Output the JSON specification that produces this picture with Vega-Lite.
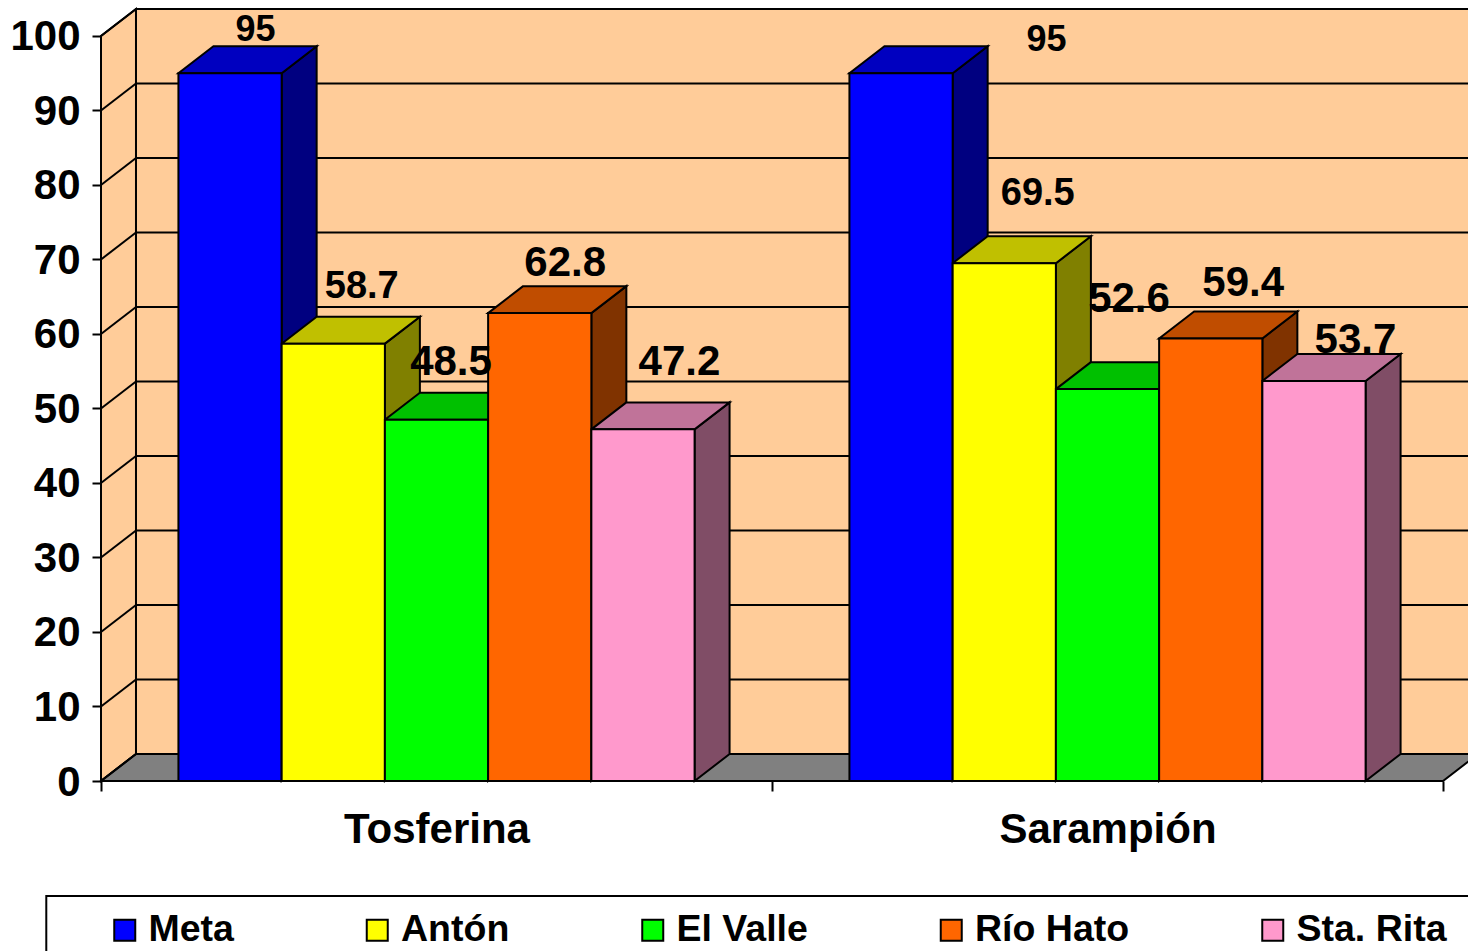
{"$schema":"https://vega.github.io/schema/vega-lite/v6.json","width":1367,"height":772,"autosize":"none","padding":{"left":101,"top":9,"right":0,"bottom":170},"background":"white","config":{"view":{"stroke":null},"font":"Liberation Sans"},
"datasets":{
"barras":[
{"grupo":"Tosferina","serie":"Meta","valor":95},
{"grupo":"Tosferina","serie":"Antón","valor":58.7},
{"grupo":"Tosferina","serie":"El Valle","valor":48.5},
{"grupo":"Tosferina","serie":"Río Hato","valor":62.8},
{"grupo":"Tosferina","serie":"Sta. Rita","valor":47.2},
{"grupo":"Sarampión","serie":"Meta","valor":95},
{"grupo":"Sarampión","serie":"Antón","valor":69.5},
{"grupo":"Sarampión","serie":"El Valle","valor":52.6},
{"grupo":"Sarampión","serie":"Río Hato","valor":59.4},
{"grupo":"Sarampión","serie":"Sta. Rita","valor":53.7}],
"rejilla":[{"nivel":0},{"nivel":10},{"nivel":20},{"nivel":30},{"nivel":40},{"nivel":50},{"nivel":60},{"nivel":70},{"nivel":80},{"nivel":90},{"nivel":100}],
"pared":[{"t":0},{"t":1}]},
"params":[{"name":"dx","value":0.339},{"name":"dy","value":3.62}],
"layer":[
{"data":{"name":"pared"},"transform":[{"calculate":"datum.t*dx","as":"xa"},{"calculate":"datum.t*dy","as":"ya"},{"calculate":"100+datum.t*dy","as":"yb"}],
 "mark":{"type":"area","orient":"vertical","fill":"#FFCC99","stroke":"black","strokeWidth":2},
 "encoding":{"x":{"field":"xa","type":"quantitative","scale":{"domain":[0,13.242],"nice":false,"zero":false},
   "axis":{"title":null,"values":[0,3.25,6.5,9.75,13],"grid":false,"domain":false,"tickColor":"black","tickWidth":2,"tickSize":10,"tickOpacity":{"condition":{"test":"datum.value==3.25||datum.value==9.75","value":0},"value":1},"labelExpr":"datum.value==3.25?'Tosferina':datum.value==9.75?'Sarampión':''","labelFont":"Liberation Sans","labelFontWeight":"bold","labelFontSize":42,"labelColor":"black","labelPadding":18,"labelOverlap":false,"labelFlush":false,"labelLimit":500}},
  "y":{"field":"ya","type":"quantitative","stack":null,"scale":{"domain":[0,103.62],"nice":false,"zero":false},
   "axis":{"title":null,"values":[0,10,20,30,40,50,60,70,80,90,100],"grid":false,"domain":false,"tickColor":"black","tickWidth":2,"tickSize":9,"labelFont":"Liberation Sans","labelFontWeight":"bold","labelFontSize":42,"labelColor":"black","labelPadding":12,"labelOffset":1}},
  "y2":{"field":"yb"}}},
{"data":{"name":"pared"},"transform":[{"calculate":"datum.t*dx","as":"xa"},{"calculate":"13+datum.t*dx","as":"xb"},{"calculate":"datum.t*dy","as":"ya"}],
 "mark":{"type":"area","orient":"horizontal","fill":"#808080","stroke":"black","strokeWidth":2},
 "encoding":{"x":{"field":"xa","type":"quantitative"},"x2":{"field":"xb"},"y":{"field":"ya","type":"quantitative","stack":null}}},
{"data":{"name":"pared"},"transform":[{"aggregate":[{"op":"max","field":"t","as":"m"}]},{"calculate":"dx","as":"xa"},{"calculate":"14","as":"xb"},{"calculate":"dy","as":"ya"},{"calculate":"100+dy","as":"yb"}],
 "mark":{"type":"rect","fill":"#FFCC99","stroke":"black","strokeWidth":2},
 "encoding":{"x":{"field":"xa","type":"quantitative"},"x2":{"field":"xb"},"y":{"field":"ya","type":"quantitative"},"y2":{"field":"yb"}}},
{"data":{"name":"pared"},"transform":[{"aggregate":[{"op":"max","field":"t","as":"m"}]},{"calculate":"-0.53","as":"xa"},{"calculate":"14","as":"xb"},{"calculate":"-15.44","as":"ya"},{"calculate":"-40","as":"yb"}],
 "mark":{"type":"rect","fill":"white","stroke":"black","strokeWidth":2},
 "encoding":{"x":{"field":"xa","type":"quantitative"},"x2":{"field":"xb"},"y":{"field":"ya","type":"quantitative"},"y2":{"field":"yb"}}},
{"data":{"name":"rejilla"},"transform":[{"calculate":"[0,1]","as":"t"},{"flatten":["t"]},{"calculate":"datum.t*dx","as":"xa"},{"calculate":"datum.nivel+datum.t*dy","as":"ya"}],
 "mark":{"type":"line","stroke":"black","strokeWidth":2},
 "encoding":{"x":{"field":"xa","type":"quantitative"},"y":{"field":"ya","type":"quantitative"},"detail":{"field":"nivel"}}},
{"data":{"name":"rejilla"},"transform":[{"calculate":"dx","as":"xa"},{"calculate":"14","as":"xb"},{"calculate":"datum.nivel+dy","as":"ya"}],
 "mark":{"type":"rule","stroke":"black","strokeWidth":2},
 "encoding":{"x":{"field":"xa","type":"quantitative"},"x2":{"field":"xb"},"y":{"field":"ya","type":"quantitative"}}},
{"data":{"name":"barras"},"transform":[{"calculate":"[0,1]","as":"t"},{"flatten":["t"]},{"calculate":"indexof(['Tosferina','Sarampión'],datum.grupo)*6.5+0.75+indexof(['Meta','Antón','El Valle','Río Hato','Sta. Rita'],datum.serie)+1+datum.t*dx","as":"xa"},{"calculate":"datum.t*dy","as":"ya"},{"calculate":"datum.valor+datum.t*dy","as":"yb"}],
 "mark":{"type":"area","orient":"vertical","stroke":"black","strokeWidth":2},
 "encoding":{"x":{"field":"xa","type":"quantitative"},"y":{"field":"ya","type":"quantitative","stack":null},"y2":{"field":"yb"},"detail":{"field":"grupo"},
  "color":{"field":"serie","type":"nominal","legend":null,"scale":{"domain":["Meta","Antón","El Valle","Río Hato","Sta. Rita"],"range":["#000080","#808000","#008000","#803300","#804D66"]}}}},
{"data":{"name":"barras"},"transform":[{"calculate":"[0,1]","as":"t"},{"flatten":["t"]},{"calculate":"indexof(['Tosferina','Sarampión'],datum.grupo)*6.5+0.75+indexof(['Meta','Antón','El Valle','Río Hato','Sta. Rita'],datum.serie)+datum.t*dx","as":"xa"},{"calculate":"datum.xa+1","as":"xb"},{"calculate":"datum.valor+datum.t*dy","as":"ya"}],
 "mark":{"type":"area","orient":"horizontal","stroke":"black","strokeWidth":2},
 "encoding":{"x":{"field":"xa","type":"quantitative"},"x2":{"field":"xb"},"y":{"field":"ya","type":"quantitative","stack":null},"detail":{"field":"grupo"},
  "color":{"field":"serie","type":"nominal","legend":null,"scale":{"domain":["Meta","Antón","El Valle","Río Hato","Sta. Rita"],"range":["#0000C0","#C0C000","#00C000","#C04D00","#C07399"]}}}},
{"data":{"name":"barras"},"transform":[{"calculate":"indexof(['Tosferina','Sarampión'],datum.grupo)*6.5+0.75+indexof(['Meta','Antón','El Valle','Río Hato','Sta. Rita'],datum.serie)","as":"xa"},{"calculate":"datum.xa+1","as":"xb"}],
 "mark":{"type":"rect","stroke":"black","strokeWidth":2},
 "encoding":{"x":{"field":"xa","type":"quantitative"},"x2":{"field":"xb"},"y":{"field":"valor","type":"quantitative"},"y2":{"datum":0},
  "color":{"field":"serie","type":"nominal","scale":{"domain":["Meta","Antón","El Valle","Río Hato","Sta. Rita"],"range":["#0000FF","#FFFF00","#00FF00","#FF6600","#FF99CC"]},
   "legend":{"title":null,"orient":"none","legendX":5,"legendY":902,"direction":"horizontal","columns":5,"columnPadding":124.5,"padding":0,"symbolType":"square","symbolSize":441,"symbolStrokeColor":"black","symbolStrokeWidth":2,"symbolOpacity":1,"labelFont":"Liberation Sans","labelFontWeight":"bold","labelFontSize":37.5,"labelColor":"black","labelOffset":5}}}},
{"data":{"name":"barras"},"transform":[{"filter":"datum.grupo=='Tosferina'&&datum.serie=='Meta'"},{"calculate":"0.75+0.5+dx/2","as":"xa"},{"calculate":"datum.valor+dy","as":"ya"}],"mark":{"type":"text","font":"Liberation Sans","fontWeight":"bold","fontSize":36,"fill":"black","baseline":"middle","dx":8,"dy":-16},"encoding":{"x":{"field":"xa","type":"quantitative"},"y":{"field":"ya","type":"quantitative"},"text":{"field":"valor","type":"quantitative"}}},
{"data":{"name":"barras"},"transform":[{"filter":"datum.grupo=='Tosferina'&&datum.serie=='Antón'"},{"calculate":"1.75+0.5+dx/2","as":"xa"},{"calculate":"datum.valor+dy","as":"ya"}],"mark":{"type":"text","font":"Liberation Sans","fontWeight":"bold","fontSize":38,"fill":"black","baseline":"middle","dx":11,"dy":-30},"encoding":{"x":{"field":"xa","type":"quantitative"},"y":{"field":"ya","type":"quantitative"},"text":{"field":"valor","type":"quantitative"}}},
{"data":{"name":"barras"},"transform":[{"filter":"datum.grupo=='Tosferina'&&datum.serie=='El Valle'"},{"calculate":"2.75+0.5+dx/2","as":"xa"},{"calculate":"datum.valor+dy","as":"ya"}],"mark":{"type":"text","font":"Liberation Sans","fontWeight":"bold","fontSize":42,"fill":"black","baseline":"middle","dx":-3,"dy":-31},"encoding":{"x":{"field":"xa","type":"quantitative"},"y":{"field":"ya","type":"quantitative"},"text":{"field":"valor","type":"quantitative"}}},
{"data":{"name":"barras"},"transform":[{"filter":"datum.grupo=='Tosferina'&&datum.serie=='Río Hato'"},{"calculate":"3.75+0.5+dx/2","as":"xa"},{"calculate":"datum.valor+dy","as":"ya"}],"mark":{"type":"text","font":"Liberation Sans","fontWeight":"bold","fontSize":42,"fill":"black","baseline":"middle","dx":8,"dy":-23},"encoding":{"x":{"field":"xa","type":"quantitative"},"y":{"field":"ya","type":"quantitative"},"text":{"field":"valor","type":"quantitative"}}},
{"data":{"name":"barras"},"transform":[{"filter":"datum.grupo=='Tosferina'&&datum.serie=='Sta. Rita'"},{"calculate":"4.75+0.5+dx/2","as":"xa"},{"calculate":"datum.valor+dy","as":"ya"}],"mark":{"type":"text","font":"Liberation Sans","fontWeight":"bold","fontSize":42,"fill":"black","baseline":"middle","dx":19,"dy":-40},"encoding":{"x":{"field":"xa","type":"quantitative"},"y":{"field":"ya","type":"quantitative"},"text":{"field":"valor","type":"quantitative"}}},
{"data":{"name":"barras"},"transform":[{"filter":"datum.grupo=='Sarampión'&&datum.serie=='Meta'"},{"calculate":"7.25+0.5+dx/2","as":"xa"},{"calculate":"datum.valor+dy","as":"ya"}],"mark":{"type":"text","font":"Liberation Sans","fontWeight":"bold","fontSize":36,"fill":"black","baseline":"middle","dx":128,"dy":-6},"encoding":{"x":{"field":"xa","type":"quantitative"},"y":{"field":"ya","type":"quantitative"},"text":{"field":"valor","type":"quantitative"}}},
{"data":{"name":"barras"},"transform":[{"filter":"datum.grupo=='Sarampión'&&datum.serie=='Antón'"},{"calculate":"8.25+0.5+dx/2","as":"xa"},{"calculate":"datum.valor+dy","as":"ya"}],"mark":{"type":"text","font":"Liberation Sans","fontWeight":"bold","fontSize":38,"fill":"black","baseline":"middle","dx":16,"dy":-42},"encoding":{"x":{"field":"xa","type":"quantitative"},"y":{"field":"ya","type":"quantitative"},"text":{"field":"valor","type":"quantitative"}}},
{"data":{"name":"barras"},"transform":[{"filter":"datum.grupo=='Sarampión'&&datum.serie=='El Valle'"},{"calculate":"9.25+0.5+dx/2","as":"xa"},{"calculate":"datum.valor+dy","as":"ya"}],"mark":{"type":"text","font":"Liberation Sans","fontWeight":"bold","fontSize":42,"fill":"black","baseline":"middle","dx":4,"dy":-63},"encoding":{"x":{"field":"xa","type":"quantitative"},"y":{"field":"ya","type":"quantitative"},"text":{"field":"valor","type":"quantitative"}}},
{"data":{"name":"barras"},"transform":[{"filter":"datum.grupo=='Sarampión'&&datum.serie=='Río Hato'"},{"calculate":"10.25+0.5+dx/2","as":"xa"},{"calculate":"datum.valor+dy","as":"ya"}],"mark":{"type":"text","font":"Liberation Sans","fontWeight":"bold","fontSize":42,"fill":"black","baseline":"middle","dx":15,"dy":-28},"encoding":{"x":{"field":"xa","type":"quantitative"},"y":{"field":"ya","type":"quantitative"},"text":{"field":"valor","type":"quantitative"}}},
{"data":{"name":"barras"},"transform":[{"filter":"datum.grupo=='Sarampión'&&datum.serie=='Sta. Rita'"},{"calculate":"11.25+0.5+dx/2","as":"xa"},{"calculate":"datum.valor+dy","as":"ya"}],"mark":{"type":"text","font":"Liberation Sans","fontWeight":"bold","fontSize":42,"fill":"black","baseline":"middle","dx":24,"dy":-14},"encoding":{"x":{"field":"xa","type":"quantitative"},"y":{"field":"ya","type":"quantitative"},"text":{"field":"valor","type":"quantitative"}}}
],
"resolve":{"scale":{"color":"independent"}}}
